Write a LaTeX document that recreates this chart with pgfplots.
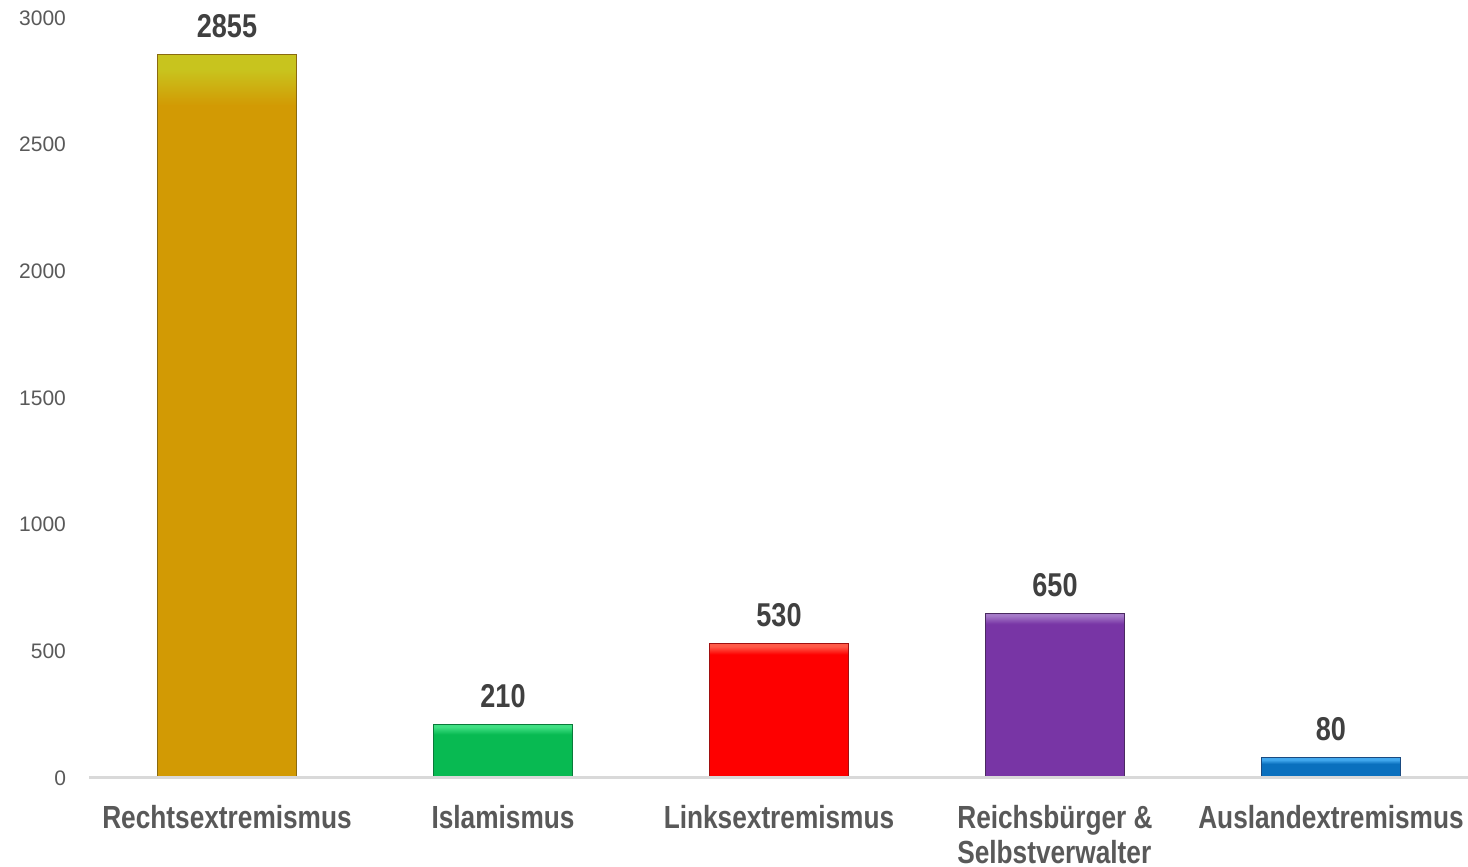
\documentclass[border=0pt]{standalone}
\usepackage{pgfplots}
\pgfplotsset{compat=1.18}
\usepackage{fontspec}
\setmainfont{Liberation Sans}
\newfontfamily\narrowf{Liberation Sans}[FakeStretch=0.82]

\definecolor{tickgray}{HTML}{595959}
\definecolor{catgray}{HTML}{595959}
\definecolor{valgray}{HTML}{404040}
\definecolor{basegray}{HTML}{D9D9D9}

\definecolor{cR}{HTML}{D29A04}\definecolor{cRt}{HTML}{C8C41E}\definecolor{cRd}{HTML}{8A6A10}
\definecolor{cI}{HTML}{08BA52}\definecolor{cIt}{HTML}{40E083}\definecolor{cId}{HTML}{0A7A3A}
\definecolor{cL}{HTML}{FE0000}\definecolor{cLt}{HTML}{FF5A48}\definecolor{cLd}{HTML}{A01010}
\definecolor{cS}{HTML}{7835A5}\definecolor{cSt}{HTML}{A57AC8}\definecolor{cSd}{HTML}{4A2A60}
\definecolor{cA}{HTML}{0A70BE}\definecolor{cAt}{HTML}{42A8EE}\definecolor{cAd}{HTML}{1A4A80}

\pgfdeclareverticalshading{shR}{100bp}{color(0bp)=(cR); color(71.5bp)=(cR); color(74bp)=(cRt); color(100bp)=(cRt)}
\pgfdeclareverticalshading{shI}{100bp}{color(0bp)=(cI); color(66bp)=(cI); color(73bp)=(cIt); color(75bp)=(cIt); color(100bp)=(cIt)}
\pgfdeclareverticalshading{shL}{100bp}{color(0bp)=(cL); color(71bp)=(cL); color(74bp)=(cLt); color(75bp)=(cLt); color(100bp)=(cLt)}
\pgfdeclareverticalshading{shS}{100bp}{color(0bp)=(cS); color(71.8bp)=(cS); color(74.3bp)=(cSt); color(75bp)=(cSt); color(100bp)=(cSt)}
\pgfdeclareverticalshading{shA}{100bp}{color(0bp)=(cA); color(60bp)=(cA); color(70bp)=(cAt); color(75bp)=(cAt); color(100bp)=(cAt)}

\begin{document}
\begin{tikzpicture}
\useasboundingbox (0,0) rectangle (734pt,433.5pt);
\begin{axis}[
  at={(44.5pt,44.5pt)}, anchor=south west,
  scale only axis, width=690pt, height=380pt,
  xmin=-0.5, xmax=4.5, ymin=0, ymax=3000,
  axis line style={draw=none},
  major tick length=0pt,
  xtick={0,1,2,3,4},
  xticklabels={Rechtsextremismus,Islamismus,Linksextremismus,{Reichsbürger \&\\[1.5pt]Selbstverwalter},Auslandextremismus},
  xticklabel style={anchor=north, yshift=-10pt, align=left, text=catgray,
    font=\narrowf\bfseries\fontsize{16}{16}\selectfont},
  ytick={0,500,1000,1500,2000,2500,3000},
  yticklabel style={anchor=east, xshift=-8pt, text=tickgray, font=\fontsize{10.5}{12}\selectfont},
  /pgf/number format/assume math mode=true,
  /pgf/number format/1000 sep={},
  ybar, bar width=69.5pt, bar shift=0pt,
  clip=false,
  nodes near coords,
  nodes near coords style={anchor=base, yshift=8.5pt, text=valgray,
    font=\narrowf\bfseries\fontsize{16.5}{18}\selectfont},
]
\addplot[shade, shading=shR, draw=cRd, line width=0.5pt] coordinates {(0,2855)};
\addplot[shade, shading=shI, draw=cId, line width=0.5pt] coordinates {(1,210)};
\addplot[shade, shading=shL, draw=cLd, line width=0.5pt] coordinates {(2,530)};
\addplot[shade, shading=shS, draw=cSd, line width=0.5pt] coordinates {(3,650)};
\addplot[shade, shading=shA, draw=cAd, line width=0.5pt] coordinates {(4,80)};
\draw[basegray, line width=1.5pt] (rel axis cs:0,0) -- (rel axis cs:1,0);
\end{axis}
\end{tikzpicture}
\end{document}
